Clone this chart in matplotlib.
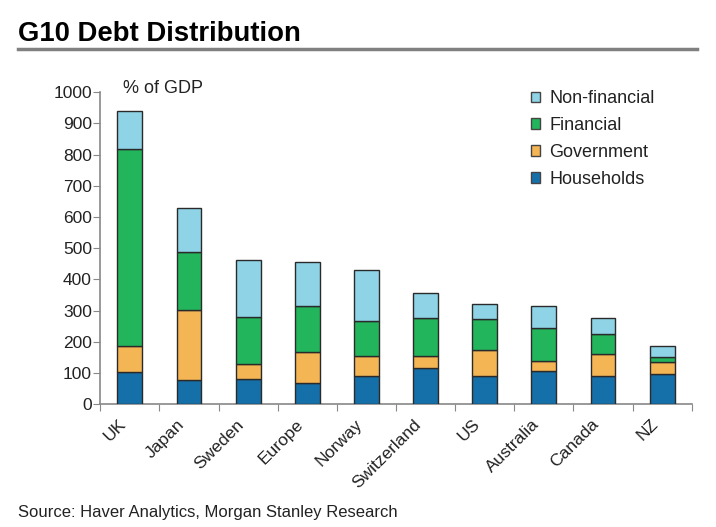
import matplotlib
matplotlib.use("Agg")
import matplotlib.pyplot as plt
import matplotlib.transforms as mtransforms
import numpy as np
from matplotlib.patches import Patch
from matplotlib.lines import Line2D

plt.rcParams['font.family'] = ['Liberation Sans', 'DejaVu Sans']

countries = ["UK", "Japan", "Sweden", "Europe", "Norway", "Switzerland",
             "US", "Australia", "Canada", "NZ"]
households = [103, 76, 82, 69, 90, 115, 90, 108, 90, 97]
government = [85, 226, 48, 99, 66, 40, 84, 29, 71, 37]
financial = [630, 187, 148, 147, 111, 121, 98, 107, 63, 17]
nonfinancial = [122, 141, 183, 140, 163, 81, 50, 71, 52, 37]

series = [("Households", households, "#1570AA"),
          ("Government", government, "#F4B555"),
          ("Financial", financial, "#22B55B"),
          ("Non-financial", nonfinancial, "#8ED4E6")]

fig = plt.figure(figsize=(7.16, 5.27), dpi=100)
ax = fig.add_axes([0.140, 0.233, 0.826, 0.592])

x = np.arange(len(countries))
bottom = np.zeros(len(countries))
handles = []
for name, vals, col in series:
    ax.bar(x, vals, 0.42, bottom=bottom, color=col, edgecolor="#2a2a2a", linewidth=1.0, zorder=3)
    bottom += np.array(vals)
    handles.append(Patch(facecolor=col, edgecolor="#444444", linewidth=1.0, label=name))

ax.set_xlim(-0.5, len(countries) - 0.5)
ax.set_ylim(0, 1000)
ax.set_yticks(np.arange(0, 1001, 100))
ax.tick_params(axis='y', labelsize=12.5, direction='out', length=5, color="#888888", pad=1,
               labelcolor="#222222")

ax.set_xticks(np.arange(-0.5, len(countries), 1))
ax.set_xticklabels([])
ax.tick_params(axis='x', which='major', direction='out', length=5, color="#888888")
ax.set_xticks(x, minor=True)
ax.set_xticklabels(countries, minor=True, rotation=45, ha='right', rotation_mode='anchor',
                   fontsize=12.5, color="#222222")
ax.tick_params(axis='x', which='minor', length=0, pad=9)
offset = mtransforms.ScaledTranslation(-12 / 100, 0, fig.dpi_scale_trans)
for lbl in ax.get_xticklabels(minor=True):
    lbl.set_transform(lbl.get_transform() + offset)

for s in ["top", "right"]:
    ax.spines[s].set_visible(False)
for s in ["left", "bottom"]:
    ax.spines[s].set_color("#888888")
    ax.spines[s].set_linewidth(1.2)

ax.text(-0.12, 1013, "% of GDP", fontsize=13, ha='left', va='center', color="#222222")

leg = fig.legend(handles=handles[::-1], loc='upper left', bbox_to_anchor=(0.741, 0.829),
                 bbox_transform=fig.transFigure,
                 frameon=False, fontsize=13, handlelength=0.5, handleheight=0.5,
                 handletextpad=0.55, labelspacing=0.55, borderpad=0, borderaxespad=0)
for t in leg.get_texts():
    t.set_color("#222222")

fig.text(0.025, 0.936, "G10 Debt Distribution", fontsize=19.8, fontweight='bold', ha='left', va='center')
fig.add_artist(Line2D([0.025, 0.973], [0.907, 0.907], color="#808080", linewidth=2.5))
fig.text(0.025, 0.027, "Source: Haver Analytics, Morgan Stanley Research", fontsize=12,
         ha='left', va='center', color="#222222")

fig.savefig("out.png", dpi=100)
